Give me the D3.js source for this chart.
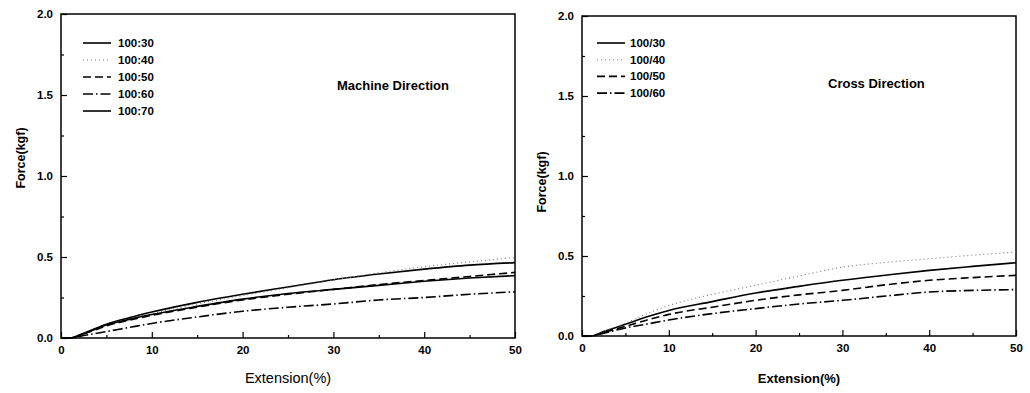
<!DOCTYPE html>
<html><head><meta charset="utf-8">
<script src="https://cdn.jsdelivr.net/npm/d3@7"></script>
<style>body{margin:0;background:#fff}svg{display:block}text{font-family:"Liberation Sans",Arial,sans-serif}</style>
</head><body>
<svg id="c" width="1030" height="393"></svg>
<script>
const xTicks = [0,10,20,30,40,50];
const yTicks = [0.0,0.5,1.0,1.5,2.0];
const extension = [0,1,2.5,5,7.5,10,15,20,25,30,35,40,45,50];

const mdLabels = ["100:30","100:40","100:50","100:60","100:70"];
const md_100_30 = [0,0,0.03,0.085,0.125,0.16,0.22,0.27,0.315,0.36,0.395,0.425,0.45,0.465];
const md_100_40 = [0,0,0.028,0.08,0.118,0.15,0.21,0.262,0.31,0.358,0.403,0.44,0.47,0.497];
const md_100_50 = [0,0,0.025,0.075,0.11,0.14,0.19,0.235,0.27,0.3,0.33,0.355,0.38,0.405];
const md_100_60 = [0,0,0.015,0.04,0.065,0.09,0.13,0.165,0.19,0.21,0.235,0.25,0.27,0.285];
const md_100_70 = [0,0,0.027,0.08,0.115,0.145,0.195,0.24,0.275,0.3,0.325,0.35,0.37,0.385];

const cdLabels = ["100/30","100/40","100/50","100/60"];
const cd_100_30 = [0,0,0.028,0.073,0.12,0.16,0.215,0.269,0.31,0.348,0.38,0.41,0.435,0.458];
const cd_100_40 = [0,0,0.03,0.08,0.14,0.19,0.26,0.317,0.375,0.43,0.46,0.483,0.505,0.525];
const cd_100_50 = [0,0,0.022,0.06,0.1,0.135,0.18,0.223,0.257,0.285,0.32,0.348,0.365,0.379];
const cd_100_60 = [0,0,0.018,0.05,0.075,0.1,0.14,0.171,0.2,0.223,0.25,0.275,0.285,0.29];

const styles = {
  solid: {dash: null, color: "#000", w: 1.6},
  dotted: {dash: "1,3", color: "#777", w: 1.1},
  dashed: {dash: "8,4", color: "#000", w: 1.6},
  dashdot: {dash: "10,3,1.5,3", color: "#000", w: 1.6}
};

const svg = d3.select("#c");

function panel(o) {
  const x = d3.scaleLinear().domain([0,50]).range([o.x0, o.x1]);
  const y = d3.scaleLinear().domain([0,2]).range([o.y0, o.y1]);
  const g = svg.append("g");
  const minorX = [5,15,25,35,45], minorY = [0.25,0.75,1.25,1.75];
  g.append("g").attr("transform",`translate(0,${o.y0})`)
    .call(d3.axisBottom(x).tickValues(xTicks).tickSize(-6).tickPadding(8).tickFormat(d3.format("d")))
    .call(a=>a.select(".domain").remove())
    .call(a=>a.selectAll("text").attr("font-size",11.5).attr("font-weight","bold").attr("fill","#000"));
  g.append("g").attr("transform",`translate(0,${o.y0})`)
    .call(d3.axisBottom(x).tickValues(minorX).tickSize(-3).tickFormat(""))
    .call(a=>a.select(".domain").remove());
  g.append("g").attr("transform",`translate(${o.x0},0)`)
    .call(d3.axisLeft(y).tickValues(yTicks).tickSize(-6).tickPadding(8).tickFormat(d3.format(".1f")))
    .call(a=>a.select(".domain").remove())
    .call(a=>a.selectAll("text").attr("font-size",11.5).attr("font-weight","bold").attr("fill","#000"));
  g.append("g").attr("transform",`translate(${o.x0},0)`)
    .call(d3.axisLeft(y).tickValues(minorY).tickSize(-3).tickFormat(""))
    .call(a=>a.select(".domain").remove());
  g.selectAll(".tick line").attr("stroke","#000").attr("stroke-width",1.2);
  g.append("rect").attr("x",o.x0).attr("y",o.y1).attr("width",o.x1-o.x0).attr("height",o.y0-o.y1)
    .attr("fill","none").attr("stroke","#000").attr("stroke-width",1.5);
  const line = d3.line().x((d,i)=>x(extension[i])).y(d=>y(d)).curve(d3.curveMonotoneX);
  o.series.forEach((s,i)=>{
    const st = styles[s.style];
    g.append("path").attr("d",line(s.values)).attr("fill","none")
      .attr("stroke",st.color).attr("stroke-width",st.w).attr("stroke-dasharray",st.dash);
    const ly = o.legY + i*o.legStep;
    g.append("line").attr("x1",o.legX).attr("x2",o.legX+28).attr("y1",ly).attr("y2",ly)
      .attr("stroke",st.color).attr("stroke-width",st.w).attr("stroke-dasharray",st.dash);
    g.append("text").attr("x",o.legX+o.legGap).attr("y",ly).attr("dy","0.35em")
      .attr("font-size",11.5).attr("font-weight","bold").text(s.label);
  });
  g.append("text").attr("x",o.titleX).attr("y",o.titleY).attr("dy","0.35em")
    .attr("font-size",13).attr("font-weight","bold").text(o.title);
  g.append("text").attr("x",(o.x0+o.x1)/2).attr("y",o.xlabY)
    .attr("text-anchor","middle").attr("font-size",o.xlabSize).attr("font-weight",o.xlabWeight).text("Extension(%)");
  g.append("text").attr("transform",`translate(${o.ylabX},${o.ylabY}) rotate(-90)`)
    .attr("text-anchor","middle").attr("font-size",12.5).attr("font-weight","bold").text("Force(kgf)");
}

panel({x0:61,x1:515,y0:338,y1:14,legX:83,legY:43,legStep:17,legGap:35,
  title:"Machine Direction",titleX:337,titleY:85,xlabY:383,xlabSize:14.5,xlabWeight:"normal",
  ylabX:25,ylabY:158,
  series:[
    {label:mdLabels[0],values:md_100_30,style:"solid"},
    {label:mdLabels[1],values:md_100_40,style:"dotted"},
    {label:mdLabels[2],values:md_100_50,style:"dashed"},
    {label:mdLabels[3],values:md_100_60,style:"dashdot"},
    {label:mdLabels[4],values:md_100_70,style:"solid"}
  ]});
panel({x0:582,x1:1016,y0:336,y1:16,legX:597,legY:43,legStep:16.7,legGap:33,
  title:"Cross Direction",titleX:828,titleY:83,xlabY:383,xlabSize:13,xlabWeight:"bold",
  ylabX:546,ylabY:182,
  series:[
    {label:cdLabels[0],values:cd_100_30,style:"solid"},
    {label:cdLabels[1],values:cd_100_40,style:"dotted"},
    {label:cdLabels[2],values:cd_100_50,style:"dashed"},
    {label:cdLabels[3],values:cd_100_60,style:"dashdot"}
  ]});
</script>
</body></html>
